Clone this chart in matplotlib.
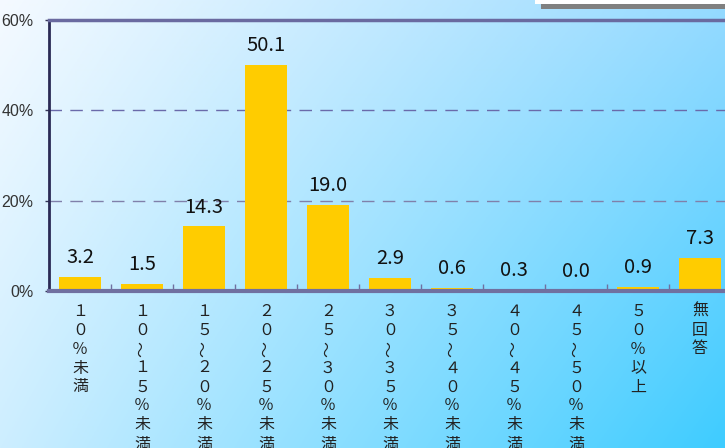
import matplotlib
matplotlib.use("Agg")
import matplotlib.pyplot as plt
import matplotlib.transforms as mtransforms
import numpy as np
from matplotlib.patches import Rectangle

plt.rcParams['font.family'] = ['Noto Sans CJK JP', 'DejaVu Sans']

categories = ["１０％未満", "１０～１５％未満", "１５～２０％未満", "２０～２５％未満",
              "２５～３０％未満", "３０～３５％未満", "３５～４０％未満", "４０～４５％未満",
              "４５～５０％未満", "５０％以上", "無回答"]
values = [3.2, 1.5, 14.3, 50.1, 19.0, 2.9, 0.6, 0.3, 0.0, 0.9, 7.3]
yticks = [0, 20, 40, 60]
ytick_labels = ["0%", "20%", "40%", "60%"]

W, H = 725, 448
fig = plt.figure(figsize=(W / 100, H / 100), dpi=100)

# background gradient
bg = fig.add_axes([0, 0, 1, 1], zorder=-10)
bg.set_axis_off()
xs = np.linspace(0, 1, 300)
ys = np.linspace(0, 1, 200)
X, Y = np.meshgrid(xs, ys)
TL = np.array([245, 250, 255]) / 255
TR = np.array([150, 218, 255]) / 255
BL = np.array([205, 238, 255]) / 255
BR = np.array([62, 204, 255]) / 255
img = ((1 - X)[..., None] * (1 - Y)[..., None] * TL + X[..., None] * (1 - Y)[..., None] * TR
       + (1 - X)[..., None] * Y[..., None] * BL + X[..., None] * Y[..., None] * BR)
bg.imshow(img, extent=[0, 1, 0, 1], aspect='auto', origin='upper')
bg.set_xlim(0, 1)
bg.set_ylim(0, 1)

# top-right box remnant
fig.patches.append(Rectangle((541 / W, 1 - 9 / H), (W - 541) / W, 5 / H, transform=fig.transFigure,
                             facecolor='#808080', edgecolor='none', zorder=-5))
fig.patches.append(Rectangle((535 / W, 1 - 4 / H), (W - 535) / W, 4 / H, transform=fig.transFigure,
                             facecolor='white', edgecolor='none', zorder=-5))

left, right, top, bottom = 49, 731, 20, 291
ax = fig.add_axes([left / W, 1 - bottom / H, (right - left) / W, (bottom - top) / H])
ax.set_facecolor('none')

x = np.arange(len(values))
ax.bar(x, values, width=0.68, color='#FFCC00', zorder=3)
ax.set_xlim(-0.5, len(values) - 0.5)
ax.set_ylim(0, 60)

for xi, v in zip(x, values):
    ax.annotate(f"{v:.1f}", (xi, v), xytext=(0, 10), textcoords='offset points',
                ha='center', va='baseline', fontsize=14.5, color='#111111', zorder=4)

ax.axhline(20, color='#8080aa', lw=1, dashes=(9, 6), zorder=1)
ax.axhline(40, color='#6a6aaa', lw=1, dashes=(9, 6), zorder=1)

ax.set_yticks(yticks)
ax.set_yticklabels(ytick_labels, fontsize=11.5, color='#333333', family=['Liberation Sans'])
ax.tick_params(axis='y', direction='out', length=3, width=1, color='#333355', pad=8)

# category labels, written vertically one character per row
ax.set_xticks(x)
ax.set_xticklabels([])
ax.tick_params(axis='x', which='major', length=0)
base = ax.get_xaxis_transform()
for xi, cat in zip(x, categories):
    for j, ch in enumerate(cat):
        tr = mtransforms.offset_copy(base, fig=fig, x=0, y=-(20 + 19 * j), units='dots')
        rot = 90 if ch == "～" else 0
        ax.text(xi, 0, ch, transform=tr, ha='center', va='center', fontsize=11.5,
                color='#222222', rotation=rot, clip_on=False)

ax.set_xticks(np.arange(0.5, len(values) - 1, 1), minor=True)
ax.tick_params(axis='x', which='minor', direction='in', length=5, width=1, color='#7070a0')

ax.spines['left'].set_color('#2a2a55')
ax.spines['left'].set_linewidth(2)
ax.spines['top'].set_color('#6a6aa0')
ax.spines['top'].set_linewidth(2.5)
ax.spines['bottom'].set_color('#7070a0')
ax.spines['bottom'].set_linewidth(3)
ax.spines['right'].set_visible(False)
for s in ax.spines.values():
    s.set_zorder(5)

fig.savefig("out.png", dpi=100)
